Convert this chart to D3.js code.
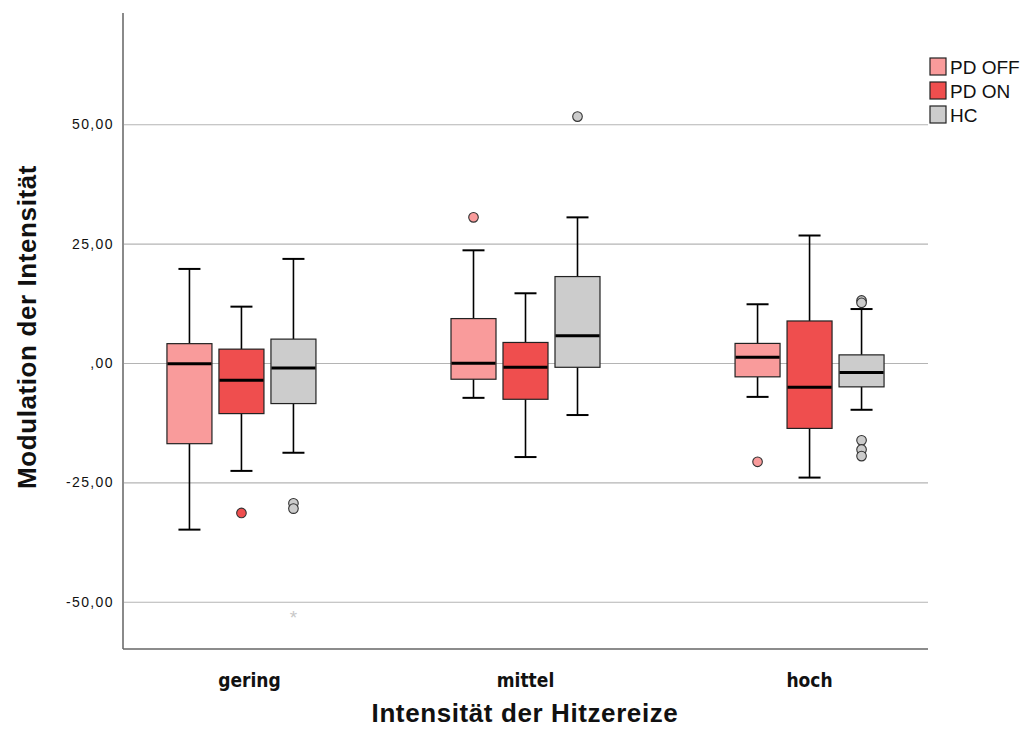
<!DOCTYPE html>
<html>
<head>
<meta charset="utf-8">
<script src="https://cdn.jsdelivr.net/npm/d3@7"></script>
<style>
  body { margin: 0; background: #fff; }
  svg { display: block; font-family: "Liberation Sans", Arial, sans-serif; }
</style>
</head>
<body>
<div id="chart"></div>
<script>
const categories = ["gering", "mittel", "hoch"];
const groups = ["PD OFF", "PD ON", "HC"];
const colors = ["#f99b9b", "#ef4e4e", "#cccccc"];
const yTicks = [-50, -25, 0, 25, 50];

// rows = groups, columns = categories
const whiskerLow = [[-34.9, -7.3, -7.1], [-22.6, -19.7, -24.0], [-18.8, -10.9, -9.8]];
const q1 = [[-16.9, -3.4, -2.9], [-10.6, -7.6, -13.7], [-8.5, -0.9, -5.0]];
const medians = [[-0.15, -0.07, 1.2], [-3.6, -0.9, -5.1], [-1.05, 5.7, -2.0]];
const q3 = [[4.05, 9.3, 4.1], [2.9, 4.3, 8.8], [5.0, 18.1, 1.7]];
const whiskerHigh = [[19.7, 23.6, 12.3], [11.8, 14.6, 26.7], [21.8, 30.5, 11.3]];
const outliers = [
  [[], [30.5], [-20.7]],
  [[-31.4], [], []],
  [[-29.4, -30.5], [51.6], [13.1, 12.6, -16.2, -18.1, -19.5]]
];
const extremes = [[[], [], []], [[], [], []], [[-52.9], [], []]];

const W = 1028, H = 729;
const mLeft = 123, mRight = 928, mTop = 13, mBottom = 649;

const svg = d3.select("#chart").append("svg")
  .attr("width", W)
  .attr("height", H);

const y = d3.scaleLinear().domain([-59.9, 73.3]).range([mBottom, mTop]);
const x = d3.scalePoint().domain(categories).range([mLeft, mRight]).padding(0.417);
const inner = d3.scaleBand().domain(groups).range([-78, 78]);

const BOX_W = 45;
const CAP_W = 22;

const locale = d3.formatLocale({ decimal: ",", thousands: ".", grouping: [3], currency: ["", ""], minus: "-" });
const fmt = v => locale.format(".2f")(v).replace(/^0,/, ",");

// gridlines
svg.append("g")
  .attr("transform", `translate(${mLeft},0)`)
  .call(d3.axisLeft(y).tickValues(yTicks).tickSize(-(mRight - mLeft)).tickFormat(""))
  .call(g => g.select(".domain").remove())
  .call(g => g.selectAll("line").attr("stroke", "#b4b4b4").attr("stroke-width", 1.2));

// y tick labels
svg.append("g")
  .attr("transform", `translate(${mLeft},0)`)
  .call(d3.axisLeft(y).tickValues(yTicks).tickSize(0).tickPadding(9).tickFormat(fmt))
  .call(g => g.select(".domain").remove())
  .call(g => g.selectAll("text")
    .attr("font-family", "Liberation Sans, Arial, sans-serif")
    .attr("font-size", 14)
    .attr("letter-spacing", "1.4px")
    .attr("fill", "#111"));

// axis frame
svg.append("line")
  .attr("x1", mLeft).attr("x2", mLeft).attr("y1", mTop).attr("y2", mBottom)
  .attr("stroke", "#8a8a8a").attr("stroke-width", 2);
svg.append("line")
  .attr("x1", mLeft).attr("x2", mRight).attr("y1", mBottom).attr("y2", mBottom)
  .attr("stroke", "#666").attr("stroke-width", 1.5);

// boxes
const boxes = [];
groups.forEach((grp, gi) => {
  categories.forEach((cat, ci) => {
    boxes.push({
      gi, ci, cx: x(cat) + inner(grp) + inner.bandwidth() / 2,
      lo: whiskerLow[gi][ci], q1: q1[gi][ci], med: medians[gi][ci],
      q3: q3[gi][ci], hi: whiskerHigh[gi][ci],
      out: outliers[gi][ci], ext: extremes[gi][ci]
    });
  });
});

const bg = svg.append("g").selectAll("g").data(boxes).join("g");

bg.append("line")
  .attr("x1", d => d.cx).attr("x2", d => d.cx)
  .attr("y1", d => y(d.hi)).attr("y2", d => y(d.q3))
  .attr("stroke", "#000").attr("stroke-width", 1.6);
bg.append("line")
  .attr("x1", d => d.cx).attr("x2", d => d.cx)
  .attr("y1", d => y(d.q1)).attr("y2", d => y(d.lo))
  .attr("stroke", "#000").attr("stroke-width", 1.6);
bg.append("line")
  .attr("x1", d => d.cx - CAP_W / 2).attr("x2", d => d.cx + CAP_W / 2)
  .attr("y1", d => y(d.hi)).attr("y2", d => y(d.hi))
  .attr("stroke", "#000").attr("stroke-width", 2);
bg.append("line")
  .attr("x1", d => d.cx - CAP_W / 2).attr("x2", d => d.cx + CAP_W / 2)
  .attr("y1", d => y(d.lo)).attr("y2", d => y(d.lo))
  .attr("stroke", "#000").attr("stroke-width", 2);
bg.append("rect")
  .attr("x", d => d.cx - BOX_W / 2)
  .attr("width", BOX_W)
  .attr("y", d => y(d.q3))
  .attr("height", d => y(d.q1) - y(d.q3))
  .attr("fill", d => colors[d.gi])
  .attr("stroke", "#222").attr("stroke-width", 1.2);
bg.append("line")
  .attr("x1", d => d.cx - BOX_W / 2 + 0.5).attr("x2", d => d.cx + BOX_W / 2 - 0.5)
  .attr("y1", d => y(d.med)).attr("y2", d => y(d.med))
  .attr("stroke", "#000").attr("stroke-width", 3);

bg.selectAll("circle")
  .data(d => d.out.map(v => ({ v, cx: d.cx, gi: d.gi })))
  .join("circle")
  .attr("cx", d => d.cx).attr("cy", d => y(d.v)).attr("r", 4.8)
  .attr("fill", d => colors[d.gi])
  .attr("stroke", "#333").attr("stroke-width", 1.1);

bg.selectAll("text.ext")
  .data(d => d.ext.map(v => ({ v, cx: d.cx })))
  .join("text")
  .attr("class", "ext")
  .attr("x", d => d.cx).attr("y", d => y(d.v) + 8)
  .attr("text-anchor", "middle")
  .attr("font-size", 19)
  .attr("fill", "#c8c8c8")
  .text("*");

// category labels
svg.append("g").selectAll("text")
  .data(categories)
  .join("text")
  .attr("x", d => x(d) + (d === "gering" ? 8 : 0))
  .attr("y", 687)
  .attr("text-anchor", "middle")
  .attr("font-family", "Liberation Sans Narrow, Arial Narrow, DejaVu Sans Condensed, sans-serif")
  .attr("font-weight", "bold")
  .attr("font-size", 19)
  .attr("fill", "#111")
  .text(d => d);

// axis titles
svg.append("text")
  .attr("x", 525).attr("y", 722)
  .attr("text-anchor", "middle")
  .attr("font-weight", "bold")
  .attr("font-size", 26)
  .attr("letter-spacing", "0.6px")
  .attr("fill", "#111")
  .text("Intensität der Hitzereize");

svg.append("text")
  .attr("transform", `translate(36,327) rotate(-90)`)
  .attr("text-anchor", "middle")
  .attr("font-weight", "bold")
  .attr("font-size", 26)
  .attr("letter-spacing", "0.6px")
  .attr("fill", "#111")
  .text("Modulation der Intensität");

// legend
const lg = svg.append("g").attr("transform", "translate(930,58)");
const li = lg.selectAll("g").data(groups).join("g")
  .attr("transform", (d, i) => `translate(0,${i * 24})`);
li.append("rect")
  .attr("width", 16).attr("height", 17)
  .attr("fill", (d, i) => colors[i])
  .attr("stroke", "#222").attr("stroke-width", 1.2);
li.append("text")
  .attr("x", 20).attr("y", 16)
  .attr("font-size", 19)
  .attr("fill", "#111")
  .text(d => d);
</script>
</body>
</html>
